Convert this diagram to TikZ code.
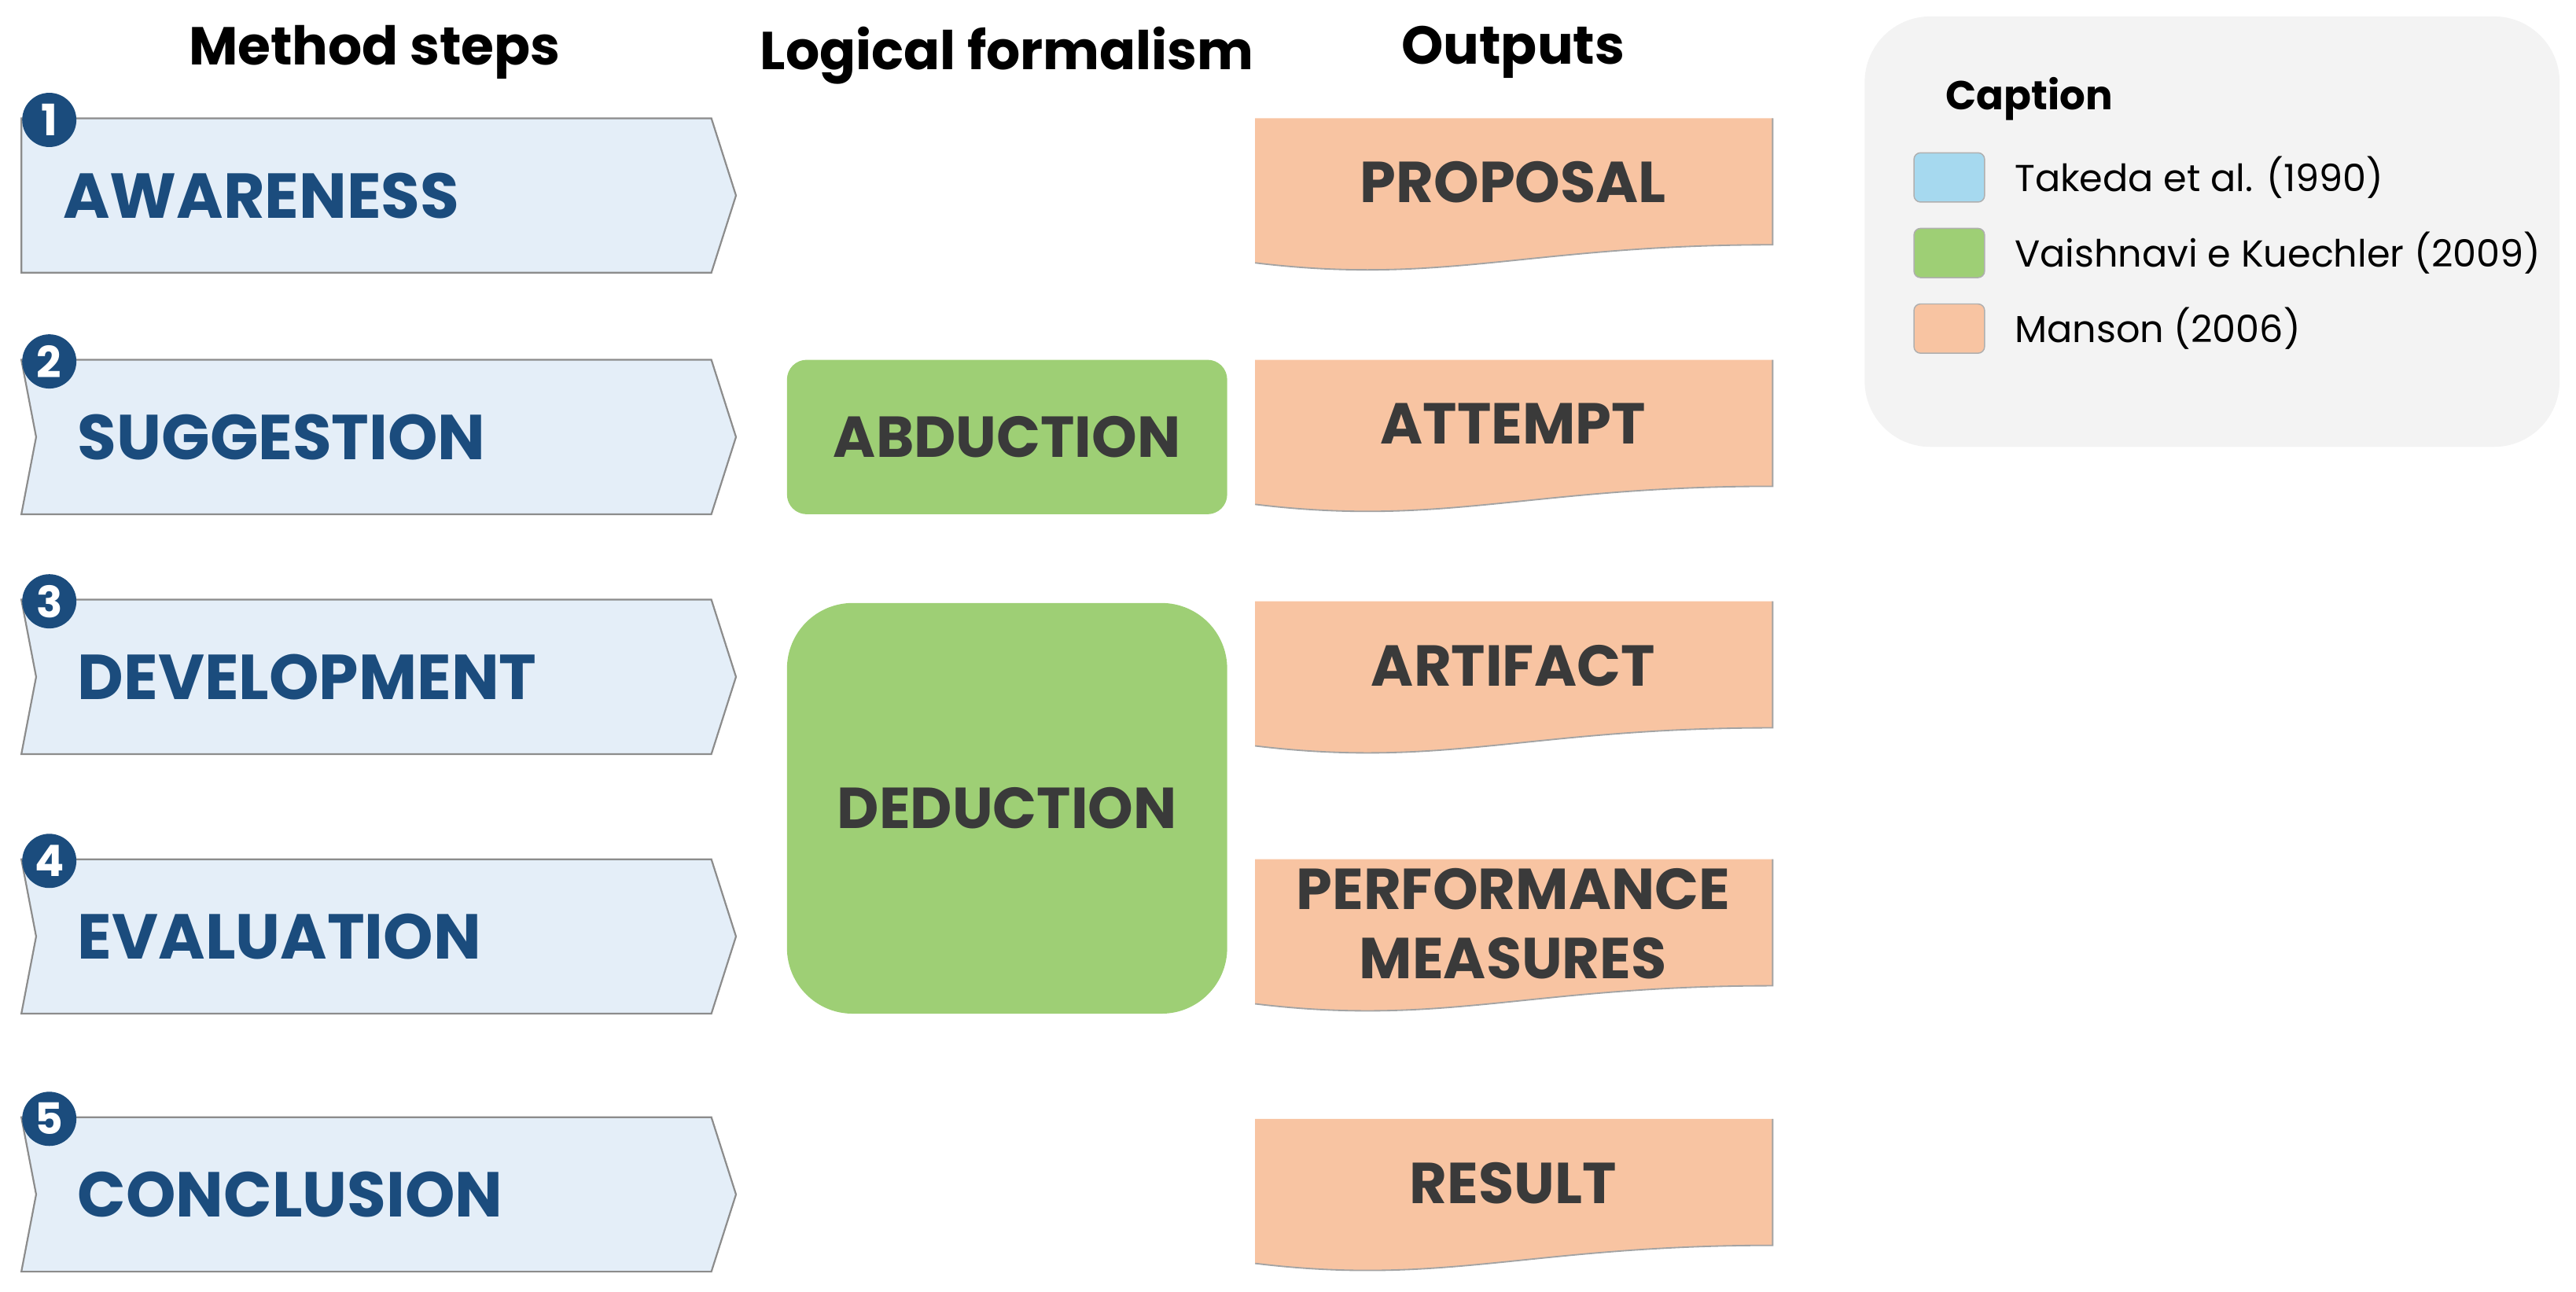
\documentclass[tikz,border=0pt]{standalone}
\usepackage{fontspec}
\setmainfont{Poppins}
\usepackage{tikz}
\usetikzlibrary{calc}

\definecolor{stepfill}{RGB}{228,238,248}
\definecolor{stepline}{RGB}{140,140,140}
\definecolor{stepblue}{RGB}{27,76,125}
\definecolor{logicgreen}{RGB}{158,207,117}
\definecolor{outorange}{RGB}{248,196,162}
\definecolor{darktext}{RGB}{58,58,58}
\definecolor{takedablue}{RGB}{166,217,239}
\definecolor{legendbg}{RGB}{243,243,243}

\begin{document}
\begin{tikzpicture}[x=0.02cm, y=-0.02cm,
  stepbox/.style={fill=stepfill, draw=stepline, line width=0.6pt},
  numdot/.style={circle, fill=stepblue, text=white, inner sep=0pt,
    minimum size=0.66cm, font=\bfseries\fontsize{15}{15}\selectfont},
  steplabel/.style={anchor=west, text=stepblue, inner sep=0pt, font=\bfseries\fontsize{22}{22}\selectfont},
  header/.style={font=\bfseries\fontsize{18.5}{18.5}\selectfont},
  logicbox/.style={fill=logicgreen, text=darktext, minimum width=5.36cm,
    font=\bfseries\fontsize{20}{20}\selectfont},
  outlabel/.style={text=darktext, align=center, font=\bfseries\fontsize{20}{24}\selectfont},
  swatch/.style={draw=stepline!70, line width=0.4pt, rounded corners=0.08cm,
    minimum width=0.86cm, minimum height=0.6cm, inner sep=0pt},
  legendtext/.style={anchor=west, inner sep=0pt, font=\fontsize{13}{13}\selectfont}]

\useasboundingbox (0,0) rectangle (1568,786);

% Column headers
\node[header] (hsteps) at (228,32) {Method steps};
\node[header] (hlogic) at (613,34) {Logical formalism};
\node[header] (hout) at (921,32) {Outputs};

% Method steps
\foreach \y/\n/\d/\name/\lbl in {72/1/0/aw/AWARENESS, 219/2/9/su/SUGGESTION,
    365/3/9/de/DEVELOPMENT, 523/4/9/ev/EVALUATION, 680/5/9/co/CONCLUSION} {
  \draw[stepbox] (13,\y) -- (433,\y) -- (448,\y+47) -- (433,\y+94) -- (13,\y+94)
    -- (13+\d,\y+47) -- cycle;
  \node[steplabel] (\name) at (38+\d,\y+47) {\lbl};
  \node[numdot] (n\n) at (30,\y+1) {\n};
}

% Logical formalism
\node[logicbox, minimum height=1.88cm, rounded corners=0.24cm] (abd) at (613,266) {ABDUCTION};
\node[logicbox, minimum height=5cm, rounded corners=0.8cm] (ded) at (613,492) {DEDUCTION};

% Outputs
\foreach \t/\name/\lbl in {72/prop/PROPOSAL, 219/att/ATTEMPT, 366/art/ARTIFACT,
    523/perf/{PERFORMANCE\\MEASURES}, 681/res/RESULT} {
  \fill[outorange] (764,\t) -- (1079,\t) -- (1079,\t+77)
    .. controls (930,\t+77) and (880,\t+102) .. (764,\t+88) -- cycle;
  \draw[stepline!80, line width=0.5pt] (1079,\t) -- (1079,\t+77)
    .. controls (930,\t+77) and (880,\t+102) .. (764,\t+88);
  \node[outlabel] (\name) at (921,\t+39) {\lbl};
}

% Caption
\fill[legendbg, rounded corners=0.8cm] (1135,10) rectangle (1558,272);
\node[anchor=west, inner sep=0pt, font=\bfseries\fontsize{14}{14}\selectfont] (cap) at (1184,60) {Caption};
\foreach \y/\c/\name/\lbl in {108/takedablue/tak/Takeda et al. (1990),
    154/logicgreen/vai/Vaishnavi e Kuechler~(2009), 200/outorange/man/Manson (2006)} {
  \node[swatch, fill=\c] (s\name) at (1186.5,\y) {};
  \node[legendtext] (\name) at (1226,\y) {\lbl};
}

\end{tikzpicture}
\end{document}
